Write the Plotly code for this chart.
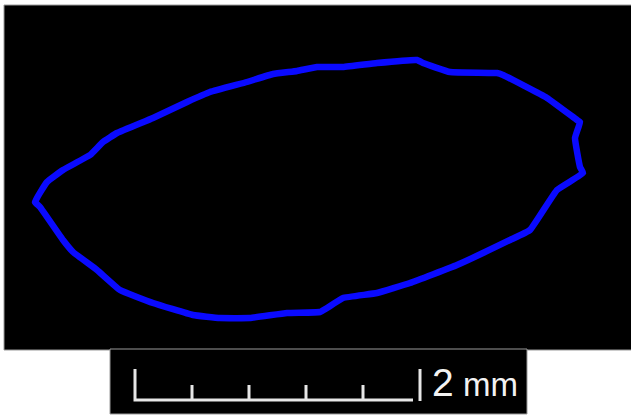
import plotly.graph_objects as go

# Seed outline, image coordinates (px), traced clockwise from the left tip
outline_x = [35, 47, 63, 90, 103, 117, 153, 187, 210, 247, 273, 297, 317, 343, 377, 417, 423, 450, 497, 503,
             547, 577, 580, 575, 580, 583, 557, 530, 510, 457, 410, 377, 343, 327, 320, 287, 250, 220, 193,
             153, 120, 97, 73, 63, 40, 35]
outline_y = [202, 182, 170, 155, 142, 133, 118, 102, 92, 82, 74, 71, 67, 67, 63, 60, 63, 72, 73, 75,
             98, 120, 122, 138, 167, 173, 190, 230, 240, 265, 283, 293, 298, 308, 312, 313, 318, 318, 315,
             303, 290, 270, 252, 240, 207, 202]

# Scale bar: 2 mm with 0.4 mm divisions
scale_ticks_mm = [0.0, 0.4, 0.8, 1.2, 1.6, 2.0]
scale_label_value = "2"
scale_label_unit = "mm"
px_per_mm = 142.5
bar_x0 = 135
bar_base = 400
major_top = 369
minor_top = 385

W, H = 631, 415
fig = go.Figure()

# scale bar path built from tick list
tick_px = [bar_x0 + t * px_per_mm for t in scale_ticks_mm]
sx, sy = [], []
sx += [tick_px[0], tick_px[0]]
sy += [major_top, bar_base]
for t in tick_px[1:-1]:
    sx += [t, t, t]
    sy += [bar_base, minor_top, bar_base]
sx += [tick_px[-1] - 7]
sy += [bar_base]
fig.add_trace(go.Scatter(x=sx, y=sy, mode="lines",
                         line=dict(color="#e6e6e6", width=3), hoverinfo="skip", showlegend=False))
fig.add_trace(go.Scatter(x=[tick_px[-1], tick_px[-1]], y=[major_top, bar_base + 1], mode="lines",
                         line=dict(color="#e6e6e6", width=3), hoverinfo="skip", showlegend=False))

fig.add_trace(go.Scatter(x=outline_x, y=outline_y, mode="lines",
                         line=dict(color="#0a0aff", width=6.5, shape="spline", smoothing=0.3),
                         hoverinfo="skip", showlegend=False))

fig.add_annotation(x=tick_px[-1] + 10, y=382, text=scale_label_value, showarrow=False,
                   xanchor="left", yanchor="middle",
                   font=dict(family="Liberation Sans, Arial, sans-serif", size=39, color="#f2f2f2"))
fig.add_annotation(x=tick_px[-1] + 41, y=384, text=scale_label_unit, showarrow=False,
                   xanchor="left", yanchor="middle",
                   font=dict(family="Liberation Sans Narrow, Arial Narrow, Liberation Sans, sans-serif",
                             size=33, color="#f2f2f2"))

fig.update_layout(
    width=W, height=H,
    margin=dict(l=0, r=0, t=0, b=0),
    paper_bgcolor="white", plot_bgcolor="white",
    xaxis=dict(range=[0, W], visible=False, fixedrange=True),
    yaxis=dict(range=[H, 0], visible=False, fixedrange=True),
    shapes=[
        dict(type="rect", xref="x", yref="y", x0=4, x1=W + 2, y0=5, y1=350,
             fillcolor="black", line=dict(color="#9a9a9a", width=1), layer="below"),
        dict(type="rect", xref="x", yref="y", x0=110, x1=527, y0=349, y1=414,
             fillcolor="black", line=dict(color="#9a9a9a", width=1), layer="below"),
    ],
)

fig.write_html("out.html", config={"displayModeBar": False},
               post_script="document.body.style.margin='0';document.body.style.overflow='hidden';")
